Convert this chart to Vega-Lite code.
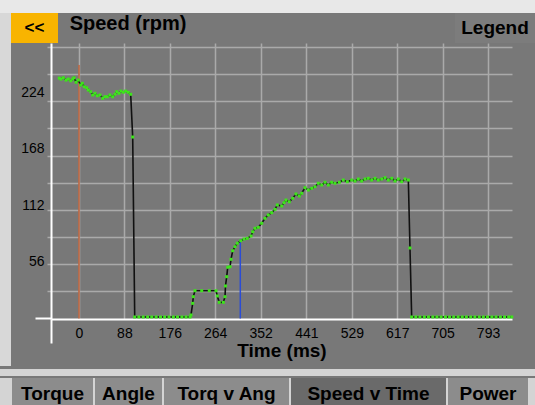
{
  "$schema": "https://vega.github.io/schema/vega-lite/v6.json",
  "padding": 0,
  "background": "#787878",
  "spacing": 0,
  "config": {
    "view": {"stroke": null},
    "concat": {"spacing": 0},
    "font": "Liberation Sans"
  },
  "datasets": {
    "speed": [
      {"t": -38.2, "rpm": 238.0}, {"t": -34.9, "rpm": 237.1}, {"t": -30.4, "rpm": 238.4}, {"t": -25.2, "rpm": 236.1},
      {"t": -20.7, "rpm": 237.1}, {"t": -16.1, "rpm": 235.4}, {"t": -12.2, "rpm": 237.1}, {"t": -9.7, "rpm": 238.4},
      {"t": -5.8, "rpm": 233.9}, {"t": -1.4, "rpm": 236.1}, {"t": 3.3, "rpm": 231.2}, {"t": 6.4, "rpm": 232.9},
      {"t": 10.3, "rpm": 229.5}, {"t": 14.9, "rpm": 228.5}, {"t": 18.0, "rpm": 226.2}, {"t": 22.7, "rpm": 224.6},
      {"t": 26.6, "rpm": 221.3}, {"t": 31.0, "rpm": 223.0}, {"t": 35.5, "rpm": 220.6}, {"t": 40.7, "rpm": 221.3},
      {"t": 45.9, "rpm": 218.0}, {"t": 50.4, "rpm": 219.6}, {"t": 54.9, "rpm": 219.6}, {"t": 60.1, "rpm": 221.3},
      {"t": 65.3, "rpm": 219.6}, {"t": 69.8, "rpm": 222.0}, {"t": 73.1, "rpm": 224.6}, {"t": 77.6, "rpm": 223.0},
      {"t": 81.4, "rpm": 225.2}, {"t": 85.9, "rpm": 224.0}, {"t": 90.5, "rpm": 225.2}, {"t": 95.6, "rpm": 224.0},
      {"t": 100.2, "rpm": 222.0}, {"t": 104.1, "rpm": 179.7}, {"t": 108.0, "rpm": 1.5},
      {"t": 116.0, "rpm": 1.5}, {"t": 124.5, "rpm": 1.5}, {"t": 133.0, "rpm": 1.5}, {"t": 141.0, "rpm": 1.5},
      {"t": 149.5, "rpm": 1.5}, {"t": 158.0, "rpm": 1.5}, {"t": 166.0, "rpm": 1.5}, {"t": 174.5, "rpm": 1.5},
      {"t": 183.0, "rpm": 1.5}, {"t": 191.0, "rpm": 1.5}, {"t": 199.5, "rpm": 1.5}, {"t": 207.5, "rpm": 1.5},
      {"t": 215.2, "rpm": 1.5},
      {"t": 217.1, "rpm": 3.5}, {"t": 220.4, "rpm": 15.0}, {"t": 221.6, "rpm": 21.6}, {"t": 224.9, "rpm": 27.5},
      {"t": 237.9, "rpm": 27.5}, {"t": 252.6, "rpm": 27.5}, {"t": 265.6, "rpm": 27.5}, {"t": 268.1, "rpm": 22.3},
      {"t": 272.0, "rpm": 16.0}, {"t": 279.8, "rpm": 16.0}, {"t": 283.1, "rpm": 21.6}, {"t": 284.0, "rpm": 32.2},
      {"t": 286.4, "rpm": 41.4}, {"t": 288.3, "rpm": 50.7}, {"t": 292.8, "rpm": 51.3}, {"t": 294.7, "rpm": 58.6},
      {"t": 298.0, "rpm": 67.1}, {"t": 302.5, "rpm": 71.1}, {"t": 306.9, "rpm": 74.5}, {"t": 313.5, "rpm": 77.0},
      {"t": 319.9, "rpm": 78.7}, {"t": 326.3, "rpm": 79.4}, {"t": 333.5, "rpm": 81.7}, {"t": 336.8, "rpm": 85.9},
      {"t": 341.2, "rpm": 89.3}, {"t": 347.6, "rpm": 90.3}, {"t": 354.2, "rpm": 94.3}, {"t": 360.6, "rpm": 99.2},
      {"t": 367.0, "rpm": 102.5}, {"t": 373.6, "rpm": 104.8}, {"t": 380.0, "rpm": 108.1}, {"t": 384.5, "rpm": 112.4},
      {"t": 393.0, "rpm": 111.4}, {"t": 397.5, "rpm": 114.7}, {"t": 401.3, "rpm": 117.3}, {"t": 407.7, "rpm": 115.6},
      {"t": 414.3, "rpm": 119.0}, {"t": 420.7, "rpm": 123.3}, {"t": 427.1, "rpm": 121.3}, {"t": 431.8, "rpm": 124.0},
      {"t": 438.2, "rpm": 129.5}, {"t": 444.6, "rpm": 127.2}, {"t": 451.2, "rpm": 128.9}, {"t": 457.6, "rpm": 130.5},
      {"t": 464.0, "rpm": 133.9}, {"t": 470.6, "rpm": 132.2}, {"t": 477.0, "rpm": 134.9}, {"t": 483.4, "rpm": 132.2},
      {"t": 489.9, "rpm": 134.9}, {"t": 496.3, "rpm": 133.9}, {"t": 504.7, "rpm": 134.9}, {"t": 512.4, "rpm": 137.1},
      {"t": 520.2, "rpm": 135.4}, {"t": 528.7, "rpm": 137.1}, {"t": 535.1, "rpm": 136.1}, {"t": 541.5, "rpm": 138.1},
      {"t": 548.1, "rpm": 136.1}, {"t": 554.5, "rpm": 138.1}, {"t": 560.9, "rpm": 138.8}, {"t": 567.5, "rpm": 137.1},
      {"t": 573.9, "rpm": 138.8}, {"t": 580.3, "rpm": 137.1}, {"t": 586.9, "rpm": 138.1}, {"t": 593.3, "rpm": 139.4},
      {"t": 599.7, "rpm": 137.1}, {"t": 606.3, "rpm": 138.8}, {"t": 612.7, "rpm": 136.1}, {"t": 619.1, "rpm": 138.1},
      {"t": 625.7, "rpm": 135.4}, {"t": 632.1, "rpm": 138.1}, {"t": 638.5, "rpm": 137.1}, {"t": 641.7, "rpm": 69.8},
      {"t": 645.0, "rpm": 1.5},
      {"t": 653.0, "rpm": 1.5}, {"t": 661.0, "rpm": 1.5}, {"t": 669.5, "rpm": 1.5}, {"t": 677.5, "rpm": 1.5},
      {"t": 686.0, "rpm": 1.5}, {"t": 694.0, "rpm": 1.5}, {"t": 702.0, "rpm": 1.5}, {"t": 710.5, "rpm": 1.5},
      {"t": 718.5, "rpm": 1.5}, {"t": 726.5, "rpm": 1.5}, {"t": 735.0, "rpm": 1.5}, {"t": 743.0, "rpm": 1.5},
      {"t": 751.0, "rpm": 1.5}, {"t": 759.5, "rpm": 1.5}, {"t": 767.5, "rpm": 1.5}, {"t": 776.0, "rpm": 1.5},
      {"t": 784.0, "rpm": 1.5}, {"t": 792.0, "rpm": 1.5}, {"t": 800.5, "rpm": 1.5}, {"t": 808.5, "rpm": 1.5},
      {"t": 817.0, "rpm": 1.5}, {"t": 825.0, "rpm": 1.5}, {"t": 833.0, "rpm": 1.5}, {"t": 839.0, "rpm": 1.5}
    ],
    "markers": [
      {"t": 0, "rpm": 251, "lo": 0, "marker": "start"},
      {"t": 312.7, "rpm": 78.5, "lo": 0, "marker": "cursor"}
    ]
  },
  "vconcat": [
    {
      "width": 535, "height": 13, "view": {"fill": "#e8e8e8"},
      "data": {"values": [{"t": ""}]}, "mark": {"type": "text"}, "encoding": {"text": {"field": "t"}}
    },
    {
      "spacing": 0,
      "hconcat": [
        {"width": 11, "height": 30, "view": {"fill": "#d8d8d8"},
         "data": {"values": [{"t": ""}]}, "mark": {"type": "text"}, "encoding": {"text": {"field": "t"}}},
        {"width": 47, "height": 30, "view": {"fill": "#f8b400"},
         "data": {"values": [{"t": "<<"}]},
         "mark": {"type": "text", "font": "Liberation Sans", "fontWeight": "bold", "fontSize": 17, "color": "black"},
         "encoding": {"text": {"field": "t"}}},
        {"width": 10, "height": 30,
         "data": {"values": [{"t": ""}]}, "mark": {"type": "text"}, "encoding": {"text": {"field": "t"}}},
        {"width": 120, "height": 22,
         "data": {"values": [{"t": "Speed (rpm)"}]},
         "mark": {"type": "text", "font": "Liberation Sans", "fontWeight": "bold", "fontSize": 20, "color": "black"},
         "encoding": {"text": {"field": "t"}}},
        {"width": 267, "height": 30,
         "data": {"values": [{"t": ""}]}, "mark": {"type": "text"}, "encoding": {"text": {"field": "t"}}},
        {"width": 80, "height": 30, "view": {"fill": "#7c7c7c"},
         "data": {"values": [{"t": "Legend"}]},
         "mark": {"type": "text", "font": "Liberation Sans", "fontWeight": "bold", "fontSize": 19, "color": "black"},
         "encoding": {"text": {"field": "t"}}}
      ]
    },
    {
      "spacing": 0,
      "hconcat": [
        {"width": 11, "height": 323, "view": {"fill": "#d8d8d8"},
         "data": {"values": [{"t": ""}]}, "mark": {"type": "text"}, "encoding": {"text": {"field": "t"}}},
        {
          "width": 461, "height": 276,
          "encoding": {
            "x": {"field": "t", "type": "quantitative",
                  "scale": {"domain": [-54.3, 839.5], "nice": false, "zero": false},
                  "axis": {
                    "values": [-54.3, 0, 88, 176, 264, 352, 441, 529, 617, 705, 793],
                    "labelExpr": "datum.value < 0 ? '' : format(datum.value, 'd')",
                    "grid": true, "gridColor": "#aaaaaa", "gridWidth": 1.5,
                    "gridOpacity": {"condition": {"test": "datum.value < 0", "value": 0}, "value": 1},
                    "ticks": true, "tickColor": "white", "tickWidth": 2,
                    "tickSize": {"condition": {"test": "datum.value < 0", "value": 24}, "value": 0},
                    "domain": true, "domainColor": "white", "domainWidth": 2,
                    "labelFont": "Liberation Sans", "labelFontSize": 14, "labelColor": "black", "labelPadding": 7,
                    "labelFlush": false, "labelOverlap": false,
                    "minExtent": 22, "maxExtent": 22,
                    "title": "Time (ms)", "titleFont": "Liberation Sans", "titleFontWeight": "bold",
                    "titleFontSize": 19, "titleColor": "black", "titlePadding": 0
                  }},
            "y": {"field": "rpm", "type": "quantitative",
                  "scale": {"domain": [-0.5, 272.8], "nice": false, "zero": false},
                  "axis": {
                    "values": [0, 26.88, 53.76, 56, 80.64, 107.52, 112, 134.4, 161.28, 168, 188.16, 215.04, 224, 241.92, 268.8],
                    "labelExpr": "indexof([56,112,168,224], datum.value) >= 0 ? format(datum.value, 'd') : ''",
                    "grid": true, "gridColor": "#aaaaaa", "gridWidth": 1.5,
                    "gridOpacity": {"condition": {"test": "indexof([0,56,112,168,224], datum.value) >= 0", "value": 0}, "value": 1},
                    "tickColor": {"condition": {"test": "datum.value == 0", "value": "white"}, "value": "#aaaaaa"},
                    "tickSize": {"condition": {"test": "datum.value == 0", "value": 16}, "value": 4},
                    "tickWidth": {"condition": {"test": "datum.value == 0", "value": 2}, "value": 1.5},
                    "tickOpacity": {"condition": {"test": "indexof([56,112,168,224], datum.value) >= 0", "value": 0}, "value": 1},
                    "domain": true, "domainColor": "white", "domainWidth": 2,
                    "labelFont": "Liberation Sans", "labelColor": "black", "labelPadding": 3,
                    "labelFontSize": {"condition": {"test": "indexof([56,112,168,224], datum.value) >= 0", "value": 14}, "value": 0},
                    "labelOverlap": false,
                    "title": " ", "titlePadding": 0, "titleFontSize": 10,
                    "minExtent": 30, "maxExtent": 30
                  }}
          },
          "layer": [
            {"data": {"name": "markers"},
             "mark": {"type": "rule", "strokeWidth": 1.5},
             "encoding": {
               "y2": {"field": "lo"},
               "color": {"field": "marker", "type": "nominal",
                         "scale": {"domain": ["start", "cursor"], "range": ["#c0643c", "#2a4cd6"]}, "legend": null}
             }},
            {"data": {"name": "speed"},
             "mark": {"type": "line", "color": "#111111", "strokeWidth": 1.6}},
            {"data": {"name": "speed"},
             "mark": {"type": "square", "color": "#3ee41c", "size": 9, "opacity": 1}}
          ]
        }
      ]
    },
    {
      "width": 535, "height": 7, "view": {"fill": "#d4d4d4"},
      "data": {"values": [{"t": ""}]}, "mark": {"type": "text"}, "encoding": {"text": {"field": "t"}}
    },
    {
      "spacing": 0,
      "hconcat": [
        {"width": 12, "height": 32, "view": {"fill": "#d4d4d4"},
         "data": {"values": [{"t": ""}]}, "mark": {"type": "text"}, "encoding": {"text": {"field": "t"}}},
        {"width": 81, "height": 32, "view": {"fill": "#8c8c8c"},
         "data": {"values": [{"tab": "Torque"}]},
         "mark": {"type": "text", "font": "Liberation Sans", "fontWeight": "bold", "fontSize": 19, "color": "black"},
         "encoding": {"text": {"field": "tab"}}},
        {"width": 2, "height": 32, "view": {"fill": "#d4d4d4"},
         "data": {"values": [{"t": ""}]}, "mark": {"type": "text"}, "encoding": {"text": {"field": "t"}}},
        {"width": 67, "height": 32, "view": {"fill": "#8c8c8c"},
         "data": {"values": [{"tab": "Angle"}]},
         "mark": {"type": "text", "font": "Liberation Sans", "fontWeight": "bold", "fontSize": 19, "color": "black"},
         "encoding": {"text": {"field": "tab"}}},
        {"width": 2, "height": 32, "view": {"fill": "#d4d4d4"},
         "data": {"values": [{"t": ""}]}, "mark": {"type": "text"}, "encoding": {"text": {"field": "t"}}},
        {"width": 125, "height": 32, "view": {"fill": "#8c8c8c"},
         "data": {"values": [{"tab": "Torq v Ang"}]},
         "mark": {"type": "text", "font": "Liberation Sans", "fontWeight": "bold", "fontSize": 19, "color": "black"},
         "encoding": {"text": {"field": "tab"}}},
        {"width": 2, "height": 32, "view": {"fill": "#d4d4d4"},
         "data": {"values": [{"t": ""}]}, "mark": {"type": "text"}, "encoding": {"text": {"field": "t"}}},
        {"width": 155, "height": 32, "view": {"fill": "#6a6a6a"},
         "data": {"values": [{"tab": "Speed v Time"}]},
         "mark": {"type": "text", "font": "Liberation Sans", "fontWeight": "bold", "fontSize": 19, "color": "black"},
         "encoding": {"text": {"field": "tab"}}},
        {"width": 2, "height": 32, "view": {"fill": "#d4d4d4"},
         "data": {"values": [{"t": ""}]}, "mark": {"type": "text"}, "encoding": {"text": {"field": "t"}}},
        {"width": 80, "height": 32, "view": {"fill": "#8c8c8c"},
         "data": {"values": [{"tab": "Power"}]},
         "mark": {"type": "text", "font": "Liberation Sans", "fontWeight": "bold", "fontSize": 19, "color": "black"},
         "encoding": {"text": {"field": "tab"}}},
        {"width": 7, "height": 32, "view": {"fill": "#d4d4d4"},
         "data": {"values": [{"t": ""}]}, "mark": {"type": "text"}, "encoding": {"text": {"field": "t"}}}
      ]
    }
  ]
}
